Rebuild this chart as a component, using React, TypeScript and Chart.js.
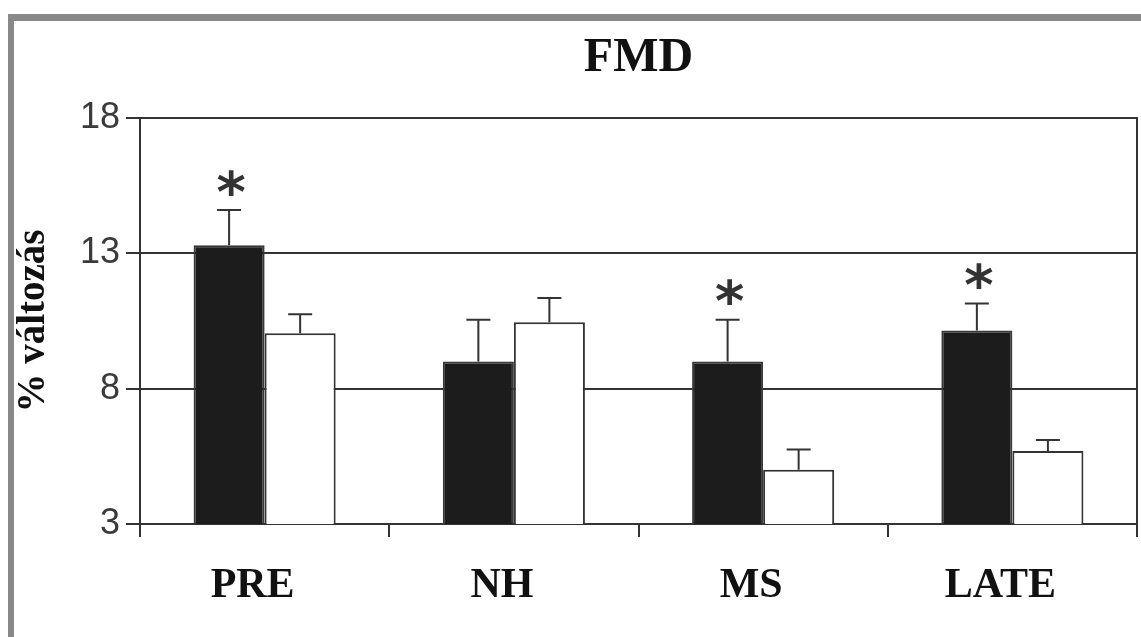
import React, { useEffect, useRef } from "react";
import { Chart, registerables } from "chart.js";

Chart.register(...registerables);

// Groups along the x axis
const categories = ["PRE", "NH", "MS", "LATE"];

// Dark (filled) series: mean and upper error
const darkValues = [13.3, 9.0, 9.0, 10.15];
const darkErrors = [1.3, 1.55, 1.55, 1.0];
const darkStars = [true, false, true, true];

// Light (open) series: mean and upper error
const lightValues = [10.05, 10.45, 5.0, 5.7];
const lightErrors = [0.7, 0.9, 0.75, 0.4];
const lightStars = [false, false, false, false];

// Y axis tick values
const yTicks = [3, 8, 13, 18];

const INK = "#333333";

// Draws one-sided (upper) error bars with caps, plus significance stars
const errorBarPlugin = {
  id: "errorBars",
  afterDatasetsDraw(chart: any) {
    const { ctx } = chart;
    const yScale = chart.scales.y;
    chart.data.datasets.forEach((ds: any, di: number) => {
      const meta = chart.getDatasetMeta(di);
      meta.data.forEach((bar: any, j: number) => {
        const v = ds.data[j];
        const e = ds.errors[j];
        const x = bar.x;
        const yTop = yScale.getPixelForValue(v);
        const yErr = yScale.getPixelForValue(v + e);
        ctx.save();
        ctx.strokeStyle = INK;
        ctx.lineWidth = 2;
        ctx.beginPath();
        ctx.moveTo(x, yTop);
        ctx.lineTo(x, yErr);
        ctx.moveTo(x - 12, yErr);
        ctx.lineTo(x + 12, yErr);
        ctx.stroke();
        if (ds.stars[j]) {
          const size = 56;
          ctx.fillStyle = INK;
          ctx.font = `bold ${size}px "DejaVu Sans"`;
          ctx.textAlign = "center";
          ctx.textBaseline = "alphabetic";
          ctx.fillText("*", x + 2, yErr - 30 + size * 0.545);
        }
        ctx.restore();
      });
    });
  },
};

export default function App() {
  const canvasRef = useRef<HTMLCanvasElement | null>(null);

  useEffect(() => {
    const canvas = canvasRef.current;
    if (!canvas) return;
    const chart = new Chart(canvas, {
      type: "bar",
      data: {
        labels: categories,
        datasets: [
          {
            label: "sötét",
            data: darkValues,
            errors: darkErrors,
            stars: darkStars,
            backgroundColor: "#1c1c1c",
            borderColor: "#383838",
            borderWidth: 2,
            borderSkipped: "start",
          } as any,
          {
            label: "világos",
            data: lightValues,
            errors: lightErrors,
            stars: lightStars,
            backgroundColor: "#ffffff",
            borderColor: INK,
            borderWidth: 2,
            borderSkipped: "start",
          } as any,
        ],
      },
      options: {
        responsive: false,
        animation: false,
        devicePixelRatio: 1,
        categoryPercentage: 0.57,
        barPercentage: 1.0,
        layout: { padding: { left: 0, right: 0, top: 0, bottom: 0 } },
        plugins: {
          legend: { display: false },
          tooltip: { enabled: false },
          title: {
            display: true,
            text: "FMD",
            fullSize: false,
            color: "#111111",
            font: { family: "Liberation Serif", size: 48, weight: "bold" },
            padding: { top: 30, bottom: 30.4 },
          },
        },
        scales: {
          x: {
            type: "category",
            afterFit: (scale: any) => {
              scale.height = 113;
            },
            border: { display: true, color: INK, width: 2 },
            grid: {
              offset: true,
              drawOnChartArea: false,
              drawTicks: true,
              tickLength: 13,
              color: INK,
              lineWidth: 2,
            },
            ticks: {
              color: "#111111",
              font: { family: "Liberation Serif", size: 42, weight: "bold" },
              padding: 24,
              labelOffset: -12,
              maxRotation: 0,
            },
          },
          y: {
            position: "left",
            min: 3,
            max: 18,
            afterFit: (scale: any) => {
              scale.width = 140;
            },
            afterBuildTicks: (scale: any) => {
              scale.ticks = yTicks.map((v) => ({ value: v }));
            },
            border: { display: true, color: INK, width: 2 },
            grid: {
              color: INK,
              lineWidth: 2,
              drawTicks: true,
              tickLength: 14,
            },
            ticks: {
              color: "#3a3a3a",
              font: { family: "Liberation Sans", size: 36 },
              padding: 6,
            },
            title: {
              display: true,
              text: "% változás",
              color: "#111111",
              font: { family: "Liberation Serif", size: 39, weight: "bold" },
              padding: { top: 11, bottom: 0 },
            },
          },
          yRight: {
            position: "right",
            display: true,
            min: 3,
            max: 18,
            afterFit: (scale: any) => {
              scale.width = 4;
            },
            border: { display: true, color: INK, width: 2 },
            grid: { display: false, drawOnChartArea: false, drawTicks: false },
            ticks: { display: false },
          },
        },
      } as any,
      plugins: [errorBarPlugin],
    });
    return () => chart.destroy();
  }, []);

  return (
    <div
      style={{
        position: "absolute",
        left: 0,
        top: 0,
        width: 1141,
        height: 637,
        overflow: "hidden",
        background: "#ffffff",
      }}
    >
      <div
        style={{
          position: "absolute",
          left: 8,
          top: 14,
          width: 2000,
          height: 2000,
          borderLeft: "6px solid #888888",
          borderTop: "7px solid #888888",
        }}
      />
      <canvas
        ref={canvasRef}
        width={1141}
        height={637}
        style={{ position: "absolute", left: 0, top: 0, display: "block" }}
      />
    </div>
  );
}
